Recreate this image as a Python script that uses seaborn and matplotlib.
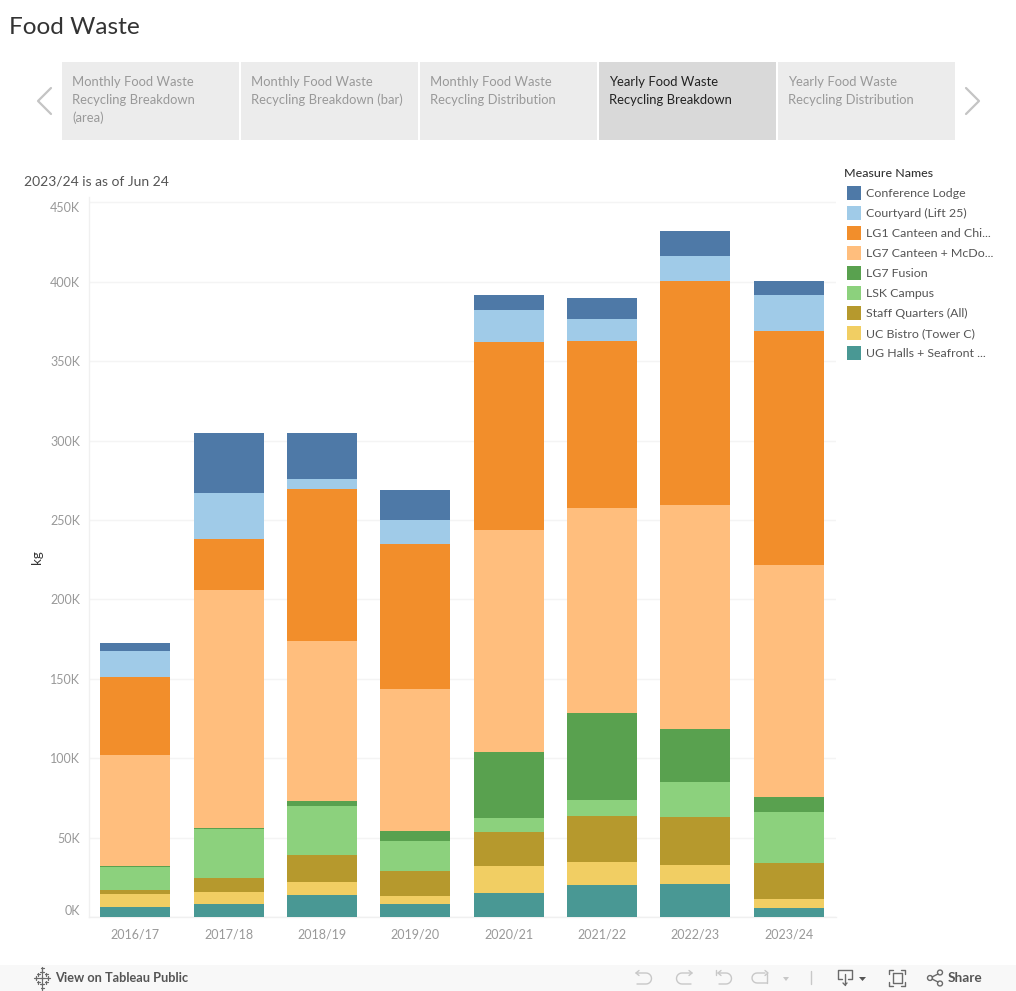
import numpy as np
import pandas as pd
import matplotlib
matplotlib.use("Agg")
import matplotlib.pyplot as plt
from matplotlib.patches import Rectangle, Circle, Polygon
from matplotlib.lines import Line2D
import seaborn as sns

years = ["2016/17","2017/18","2018/19","2019/20","2020/21","2021/22","2022/23","2023/24"]
ug_halls = [6.3, 8.2, 13.9, 8.2, 15.1, 20.2, 20.8, 5.7]
uc_bistro = [8.2, 7.6, 8.2, 5.0, 17.0, 14.5, 12.0, 5.7]
staff_quarters = [2.5, 8.8, 17.0, 15.7, 21.4, 29.0, 30.2, 22.7]
lsk_campus = [14.8, 30.9, 30.9, 18.9, 8.8, 10.1, 22.0, 32.1]
lg7_fusion = [0.3, 0.6, 3.1, 6.3, 41.6, 54.8, 33.4, 9.4]
lg7_canteen = [69.9, 149.9, 100.8, 89.4, 139.8, 129.1, 141.1, 146.1]
lg1_canteen = [49.1, 32.1, 95.7, 91.3, 118.4, 105.2, 141.1, 147.4]
courtyard = [16.4, 29.0, 6.3, 15.1, 20.2, 13.9, 15.7, 22.7]
conference = [5.0, 37.8, 29.0, 18.9, 9.4, 13.2, 15.7, 8.8]

names = ["Conference Lodge","Courtyard (Lift 25)","LG1 Canteen and Chi...","LG7 Canteen + McDo...",
         "LG7 Fusion","LSK Campus","Staff Quarters (All)","UC Bistro (Tower C)","UG Halls + Seafront ..."]
colors = ["#4e79a7","#a0cbe8","#f28e2b","#ffbe7d","#59a14f","#8cd17d","#b6992d","#f1ce63","#499894"]
series = [conference, courtyard, lg1_canteen, lg7_canteen, lg7_fusion, lsk_campus, staff_quarters, uc_bistro, ug_halls]
yticks = [0,50,100,150,200,250,300,350,400,450]

W, H = 1016, 991
sns.set_theme(style="white")
FONT = ["Lato", "DejaVu Sans"]
plt.rcParams["font.family"] = FONT
fig = plt.figure(figsize=(W/100, H/100), dpi=100, facecolor="white")
def px(x, y):
    return x/W, 1-y/H

left, right, top, bottom = 88.5, 835.5, 197, 917
ax = fig.add_axes([left/W, 1-bottom/H, (right-left)/W, (bottom-top)/H])

df = pd.DataFrame({"year": years})
base = np.zeros(len(years))
for name, color, vals in reversed(list(zip(names, colors, series))):
    df["kg"] = np.array(vals)*1000
    sns.barplot(data=df, x="year", y="kg", color=color, bottom=base, width=0.75,
                saturation=1, linewidth=0, ax=ax, zorder=3, errorbar=None)
    base = base + df["kg"].values

ax.set_xlim(-0.5, 7.5)
ax.set_ylim(0, (bottom-top)/1.588*1000)
ax.set_yticks([v*1000 for v in yticks])
ax.set_yticklabels([f"{v}K" for v in yticks], fontsize=9, color="#999999")
labels = ax.get_yticklabels()
labels[0].set_va("bottom")
labels[-1].set_va("top")
ax.set_xticks(range(len(years)))
ax.set_xticklabels(years, fontsize=9, color="#999999")
ax.set_xticks(np.arange(-0.5, 8, 1), minor=True)
ax.set_xlabel("")
ax.set_ylabel("kg", fontsize=9.6, color="#333333")
ax.yaxis.set_label_coords((43-left)/(right-left), 0.5)
ax.grid(axis="y", color="#f4f4f4", linewidth=1, zorder=0)
ax.tick_params(axis="y", length=4, pad=2, color="#f0f0f0", width=1)
ax.tick_params(axis="x", which="major", length=0, pad=8)
ax.tick_params(axis="x", which="minor", length=4, color="#f0f0f0", width=1)
for s in ["top","right"]:
    ax.spines[s].set_visible(False)
for s in ["left","bottom"]:
    ax.spines[s].set_color("#f0f0f0")
    ax.spines[s].set_linewidth(1)

# Title and note
fig.text(*px(9, 28), "Food Waste", fontsize=17.6, color="#333333", va="center", ha="left")
fig.text(*px(24, 181), "2023/24 is as of Jun 24", fontsize=10, color="#555555", va="center", ha="left")

# Story navigation tabs
tabs = [(62, ["Monthly Food Waste","Recycling Breakdown","(area)"]),
        (241, ["Monthly Food Waste","Recycling Breakdown (bar)"]),
        (420, ["Monthly Food Waste","Recycling Distribution"]),
        (599, ["Yearly Food Waste","Recycling Breakdown"]),
        (778, ["Yearly Food Waste","Recycling Distribution"])]
for i, (x0, lines) in enumerate(tabs):
    sel = i == 3
    fig.add_artist(Rectangle(px(x0, 140), 177/W, 78/H, transform=fig.transFigure,
                             fc="#d9d9d9" if sel else "#ececec", ec="none"))
    for j, t in enumerate(lines):
        fig.text(*px(x0+10, 82+18*j), t, fontsize=9.4, va="center", ha="left",
                 color="#222222" if sel else "#999999")
for xs in ([51, 38, 51], [966, 979, 966]):
    fig.add_artist(Line2D([x/W for x in xs], [1-y/H for y in (88, 101, 114)],
                          transform=fig.transFigure, color="#c4c4c4", lw=1.6))

# Legend
fig.text(*px(844, 173), "Measure Names", fontsize=8.9, color="#333333", va="center", ha="left", fontweight="medium")
for i, (n, c) in enumerate(zip(names, colors)):
    y = 193 + 20*i
    fig.add_artist(Rectangle(px(847, y+7), 14/W, 14/H, transform=fig.transFigure, fc=c, ec="none"))
    fig.text(*px(866, y+0.5), n, fontsize=8.9, color="#555555", va="center", ha="left")

# Bottom toolbar
fig.add_artist(Rectangle((0, 0), 1, 26/H, transform=fig.transFigure, fc="#f8f8f8", ec="none"))
fig.text(*px(55, 978), "View on Tableau Public", fontsize=9.2, color="#555555", va="center", ha="left", fontweight="bold")
fig.text(*px(948, 978), "Share", fontsize=9.8, color="#555555", va="center", ha="left", fontweight="bold")
def seg(xs, ys, c="#6a6a6a", lw=1.0):
    fig.add_artist(Line2D([x/W for x in xs], [1-y/H for y in ys], transform=fig.transFigure, color=c, lw=lw))
def tri(x0, x1, y0, y1, c):
    fig.add_artist(Polygon([px(x0, y0), px(x1, y0), px((x0+x1)/2, y1)], closed=True,
                           transform=fig.transFigure, fc=c, ec="none"))
def hook(x_start, x_bend, x_tail, d, c="#c8c8c8"):
    # flat top stroke, half-round bend, flat bottom stroke (d=+1 bends right, -1 bends left)
    t = np.linspace(-np.pi/2, np.pi/2, 15)
    xs = [x_start] + list(x_bend + d*5.5*np.cos(t)) + [x_tail]
    ys = [973] + list(978.5 + 5.5*np.sin(t)) + [984]
    seg(xs, ys, c=c)
# Tableau mark
for dx, dy, r in [(0,0,3),(-6,0,2),(6,0,2),(0,-6,2),(0,6,2),(-4,-4,1.5),(4,-4,1.5),(-4,4,1.5),(4,4,1.5),(0,-10,1.5),(0,10,1.5)]:
    seg([42+dx-r, 42+dx+r], [978+dy, 978+dy], lw=0.9)
    seg([42+dx, 42+dx], [978+dy-r, 978+dy+r], lw=0.9)
# Undo / redo group
grey = "#c8c8c8"
hook(636, 646, 637, 1)
seg([639, 636, 639], [970.5, 973, 975.5], c=grey)
hook(692, 682, 691, -1)
seg([689, 692, 689], [970.5, 973, 975.5], c=grey)
hook(718, 726, 719, 1)
seg([716, 716], [970, 975], c=grey)
seg([721, 718, 721], [970.5, 973, 975.5], c=grey)
t = np.linspace(np.pi/2, 3*np.pi/2, 10)
seg([767, 757] + list(757+5*np.cos(t)) + [765], [983, 983] + list(978+5*np.sin(t)) + [973], c=grey)
seg([767, 767], [974, 983], c=grey)
seg([765, 768, 765], [970.5, 973, 975.5], c=grey)
tri(783, 789, 977, 981, grey)
seg([811, 811], [971, 984], c=grey)
# Download, fit, share icons
seg([842, 838, 838, 852, 852, 848], [979, 979, 970, 970, 979, 979])
seg([845, 845], [974, 985])
seg([843, 845, 847], [983, 985, 983])
tri(859, 866, 977, 981, "#555555")
for xa, xb, ya, yb in [(889, 893, 970, 974), (905, 901, 970, 974), (889, 893, 986, 982), (905, 901, 986, 982)]:
    seg([xa, xa, xb], [yb, ya, ya])
seg([893, 902, 902, 893, 893], [973, 973, 983, 983, 973])
for cx, cy in [(930, 978), (940, 972.5), (940, 983.5)]:
    fig.add_artist(Circle(px(cx, cy), 2.5/W, transform=fig.transFigure, fc="none", ec="#6a6a6a", lw=1))
seg([932, 938], [977, 974]); seg([932, 938], [979, 982])

fig.savefig("out.png", dpi=100, facecolor="white")
